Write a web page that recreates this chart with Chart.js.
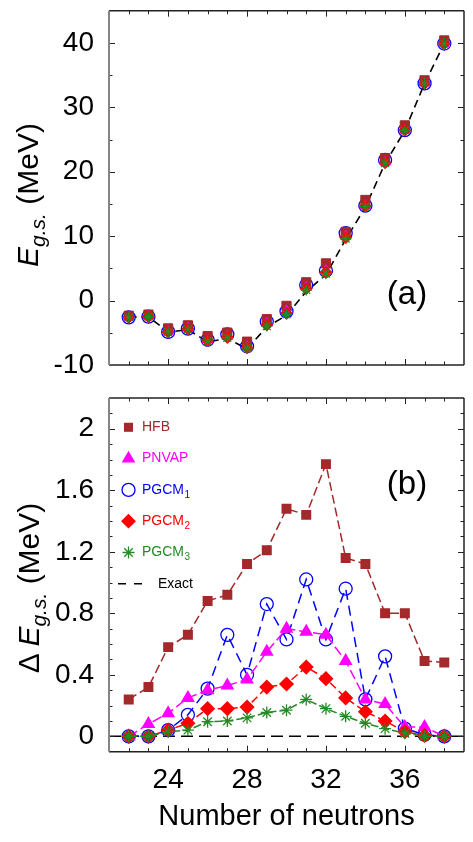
<!DOCTYPE html>
<html lang="en">
<head>
<meta charset="utf-8">
<title>Ground-state energy vs neutrons</title>
<script src="https://cdn.jsdelivr.net/npm/chart.js@4.4.0/dist/chart.umd.min.js"></script>
<style>
  html, body { margin: 0; padding: 0; background: #fff; }
  body { width: 473px; height: 842px; position: relative; overflow: hidden;
         font-family: "Liberation Sans", Arial, Helvetica, sans-serif; color: #000; }
  canvas { position: absolute; left: 0; }
  #topChart { top: 0; }
  #botChart { top: 390px; }
  .ytitle { position: absolute; white-space: nowrap; font-size: 30px; line-height: 30px;
            transform: translate(-50%, -50%) rotate(-90deg); }
  .ytitle .sub { font-size: 21px; font-style: italic; position: relative; top: 7px; }
  .panel { position: absolute; font-size: 33px; line-height: 33px; white-space: nowrap;
           transform: translate(-50%, -50%); }
</style>
</head>
<body>

<canvas id="topChart" width="473" height="390"></canvas>
<canvas id="botChart" width="473" height="452"></canvas>

<div class="ytitle" style="left:29px; top:195px;"><i>E</i><span class="sub">g.s.</span> (MeV)</div>
<div class="ytitle" style="left:30px; top:588px;">&Delta; <i>E</i><span class="sub">g.s.</span> (MeV)</div>
<div class="panel" style="left:407px; top:292px;">(a)</div>
<div class="panel" style="left:407px; top:482px;">(b)</div>

<script>
// ---- data ----
const neutrons = [22, 23, 24, 25, 26, 27, 28, 29, 30, 31, 32, 33, 34, 35, 36, 37, 38];

// panel (a): ground-state energies (MeV)
const exactE = [-2.6, -2.5, -4.9, -4.5, -6.4, -5.9, -7.5, -4.1, -2.3, 1.4, 4.0, 9.5, 14.5, 21.3, 26.4, 33.7, 39.9];
const hfbE   = [-2.36, -2.18, -4.32, -3.84, -5.52, -4.98, -6.38, -2.89, -0.82, 2.84, 5.77, 10.66, 15.62, 22.1, 27.2, 34.19, 40.38];
const pnvapE = [-2.6, -2.42, -4.75, -4.25, -6.1, -5.57, -7.13, -3.55, -1.6, 2.08, 4.66, 9.99, 14.74, 21.51, 26.46, 33.76, 39.9];
const pgcm1E = [-2.6, -2.5, -4.86, -4.36, -6.09, -5.24, -7.1, -3.24, -1.67, 2.42, 4.63, 10.46, 14.74, 21.82, 26.45, 33.71, 39.9];
const pgcm2E = [-2.6, -2.5, -4.86, -4.42, -6.22, -5.72, -7.31, -3.78, -1.96, 1.85, 4.38, 9.75, 14.66, 21.4, 26.43, 33.7, 39.9];
const pgcm3E = [-2.6, -2.5, -4.87, -4.46, -6.3, -5.8, -7.38, -3.95, -2.13, 1.64, 4.18, 9.63, 14.59, 21.35, 26.42, 33.7, 39.9];

// panel (b): deviation from exact (MeV)
const hfbD   = [0.24, 0.32, 0.58, 0.66, 0.88, 0.92, 1.12, 1.21, 1.48, 1.44, 1.77, 1.16, 1.12, 0.80, 0.80, 0.49, 0.48];
const pnvapD = [0.0, 0.08, 0.15, 0.25, 0.30, 0.33, 0.37, 0.55, 0.70, 0.68, 0.66, 0.49, 0.24, 0.21, 0.06, 0.06, 0.0];
const pgcm1D = [0.0, 0.0, 0.04, 0.14, 0.31, 0.66, 0.40, 0.86, 0.63, 1.02, 0.63, 0.96, 0.24, 0.52, 0.05, 0.01, 0.0];
const pgcm2D = [0.0, 0.0, 0.04, 0.085, 0.18, 0.18, 0.19, 0.32, 0.34, 0.45, 0.375, 0.25, 0.16, 0.10, 0.03, 0.005, 0.0];
const pgcm3D = [0.0, 0.0, 0.03, 0.04, 0.095, 0.10, 0.12, 0.155, 0.17, 0.24, 0.18, 0.13, 0.085, 0.05, 0.02, 0.0, 0.0];
const exactDX = [21, 39];
const exactD  = [0, 0];

// axes / ticks
const xTicks = [24, 28, 32, 36];
const yTicksTop = [-10, 0, 10, 20, 30, 40];
const yTicksBot = [0, 0.4, 0.8, 1.2, 1.6, 2];

// legend
const legendLabels = ['HFB', 'PNVAP', 'PGCM', 'PGCM', 'PGCM', 'Exact'];
const legendSubs   = ['', '', '1', '2', '3', ''];

const C_HFB = '#a3292b', C_PNVAP = '#ff00ff', C_P1 = '#0000ff', C_P2 = '#ff0000', C_P3 = '#238b23';

Chart.defaults.font.family = '"Liberation Sans", Arial, Helvetica, sans-serif';
Chart.defaults.color = '#000';

function pts(xs, ys) { return xs.map((x, i) => ({ x: x, y: ys[i] })); }

// frame + inward ticks on all four sides
const frameTicks = {
  id: 'frameTicks',
  afterDraw(chart, args, opts) {
    const { ctx, chartArea: a } = chart;
    const x = chart.scales.x, y = chart.scales.y;
    ctx.save();
    ctx.strokeStyle = '#222';
    ctx.lineWidth = 1;
    function seg(x1, y1, x2, y2) { ctx.beginPath(); ctx.moveTo(x1, y1); ctx.lineTo(x2, y2); ctx.stroke(); }
    for (let n = 22; n <= 38; n++) {
      const px = Math.round(x.getPixelForValue(n)) + 0.5;
      const len = xTicks.includes(n) ? 6 : 3.5;
      seg(px, a.top, px, a.top + len);
      seg(px, a.bottom, px, a.bottom - len);
    }
    for (let k = opts.kMin; k <= opts.kMax; k++) {
      const v = k * opts.step;
      const py = Math.round(y.getPixelForValue(v)) + 0.5;
      if (py < a.top + 1 || py > a.bottom - 1) continue;
      const len = (k % opts.every === 0) ? 6 : 3.5;
      seg(a.left, py, a.left + len, py);
      seg(a.right, py, a.right - len, py);
    }
    ctx.lineWidth = 1.5;
    ctx.strokeStyle = '#222';
    seg(a.left, a.top, a.right, a.top);
    seg(a.right, a.top, a.right, a.bottom);
    seg(a.left, a.bottom, a.right, a.bottom);
    ctx.strokeStyle = '#858585';
    ctx.lineWidth = 2;
    seg(a.left, a.top, a.left, a.bottom);
    ctx.restore();
  }
};

function drawMarker(ctx, style, x, y, r, color) {
  ctx.save();
  ctx.fillStyle = color;
  ctx.strokeStyle = color;
  ctx.lineWidth = 1.3;
  if (style === 'circle') ctx.fillStyle = 'rgba(0,0,0,0)';
  Chart.helpers.drawPoint(ctx, { pointStyle: style, radius: r, rotation: 0, borderWidth: 1.3 }, x, y);
  ctx.restore();
}

const legendPlugin = {
  id: 'customLegend',
  afterDraw(chart) {
    const ctx = chart.ctx;
    const a = chart.chartArea;
    const styles = ['rect', 'triangle', 'circle', 'rectRot', 'star', 'line'];
    const colors = [C_HFB, C_PNVAP, C_P1, C_P2, C_P3, '#000'];
    const sizes = [5.5, 6.5, 6.5, 6.5, 6];
    ctx.save();
    ctx.textBaseline = 'middle';
    for (let i = 0; i < legendLabels.length; i++) {
      const yy = a.top + 29.3 + i * 31.3;
      if (styles[i] === 'line') {
        ctx.strokeStyle = '#000';
        ctx.lineWidth = 1.5;
        ctx.setLineDash([8, 8]);
        ctx.beginPath(); ctx.moveTo(118, yy); ctx.lineTo(143, yy); ctx.stroke();
        ctx.setLineDash([]);
        ctx.fillStyle = '#000';
        ctx.font = '14px "Liberation Sans", Arial, sans-serif';
        ctx.fillText(legendLabels[i], 158, yy);
        continue;
      }
      drawMarker(ctx, styles[i], 128.5, yy, sizes[i], colors[i]);
      ctx.fillStyle = colors[i];
      ctx.font = '14px "Liberation Sans", Arial, sans-serif';
      ctx.fillText(legendLabels[i], 142, yy);
      if (legendSubs[i]) {
        const w = ctx.measureText(legendLabels[i]).width;
        ctx.font = '10px "Liberation Sans", Arial, sans-serif';
        ctx.fillText(legendSubs[i], 142 + w + 0.5, yy + 5);
      }
    }
    ctx.restore();
  }
};

function yAxis(ticks, min, max, fmt) {
  return {
    type: 'linear', min: min, max: max,
    grid: { display: false, drawTicks: false },
    border: { display: false },
    afterBuildTicks(s) { s.ticks = ticks.map(v => ({ value: v })); },
    afterFit(s) { s.width = 109; s.paddingTop = 0; s.paddingBottom = 0; },
    ticks: { font: { size: 28 }, padding: 15, color: '#000', callback: fmt }
  };
}

// ---- panel (a) ----
new Chart(document.getElementById('topChart'), {
  type: 'scatter',
  data: {
    datasets: [
      { data: pts(neutrons, pgcm3E), pointStyle: 'star', pointRadius: 5.5, borderColor: C_P3, backgroundColor: C_P3, pointBorderWidth: 1.3, showLine: false, order: 0 },
      { data: pts(neutrons, pgcm2E), pointStyle: 'rectRot', pointRadius: 6, borderColor: C_P2, backgroundColor: C_P2, showLine: false, order: 1 },
      { data: pts(neutrons, pnvapE), pointStyle: 'triangle', pointRadius: 6, borderColor: C_PNVAP, backgroundColor: C_PNVAP, showLine: false, order: 2 },
      { data: pts(neutrons, hfbE), pointStyle: 'rect', pointRadius: 6.5, borderColor: C_HFB, backgroundColor: C_HFB, showLine: false, order: 3 },
      { data: pts(neutrons, pgcm1E), pointStyle: 'circle', pointRadius: 6.5, borderColor: C_P1, backgroundColor: 'rgba(0,0,0,0)', pointBorderWidth: 1.3, showLine: false, order: 4 },
      { data: pts(neutrons, exactE), showLine: true, pointRadius: 0, borderColor: '#000', borderWidth: 1.6, borderDash: [8, 5], order: 5 }
    ]
  },
  options: {
    responsive: false, animation: false,
    layout: { padding: { top: 10.7, right: 9, bottom: 25, left: 0 } },
    plugins: { legend: { display: false }, tooltip: { enabled: false }, frameTicks: { kMin: -2, kMax: 9, step: 5, every: 2 } },
    scales: {
      x: { type: 'linear', min: 21, max: 39, display: false },
      y: yAxis(yTicksTop, -10, 45, v => String(v))
    }
  },
  plugins: [frameTicks]
});

// ---- panel (b) ----
new Chart(document.getElementById('botChart'), {
  type: 'scatter',
  data: {
    datasets: [
      { data: pts(neutrons, pgcm3D), pointStyle: 'star', pointRadius: 6, borderColor: C_P3, backgroundColor: C_P3, pointBorderWidth: 1.3, showLine: true, borderWidth: 1.5, borderDash: [8, 3], order: 0 },
      { data: pts(neutrons, pgcm2D), pointStyle: 'rectRot', pointRadius: 6.5, borderColor: C_P2, backgroundColor: C_P2, showLine: true, borderWidth: 1.5, borderDash: [8, 4], order: 1 },
      { data: pts(neutrons, pnvapD), pointStyle: 'triangle', pointRadius: 6.5, borderColor: C_PNVAP, backgroundColor: C_PNVAP, showLine: true, borderWidth: 1.5, borderDash: [10, 4], order: 2 },
      { data: pts(neutrons, pgcm1D), pointStyle: 'circle', pointRadius: 6.5, borderColor: C_P1, backgroundColor: 'rgba(0,0,0,0)', pointBorderWidth: 1.3, showLine: true, borderWidth: 1.5, borderDash: [10, 6], order: 3 },
      { data: pts(neutrons, hfbD), pointStyle: 'rect', pointRadius: 6, borderColor: C_HFB, backgroundColor: C_HFB, showLine: true, borderWidth: 1.5, borderDash: [9, 4], order: 4 },
      { data: pts(exactDX, exactD), showLine: true, pointRadius: 0, borderColor: '#000', borderWidth: 1.5, borderDash: [12, 6], order: 5 }
    ]
  },
  options: {
    responsive: false, animation: false,
    layout: { padding: { top: 5.7, right: 9, bottom: 0, left: 0 } },
    plugins: { legend: { display: false }, tooltip: { enabled: false }, frameTicks: { kMin: -1, kMax: 22, step: 0.1, every: 4 } },
    scales: {
      x: {
        type: 'linear', min: 21, max: 39,
        grid: { display: false, drawTicks: false },
        border: { display: false },
        afterBuildTicks(s) { s.ticks = xTicks.map(v => ({ value: v })); },
        afterFit(s) { s.height = 90.3; s.paddingLeft = 0; s.paddingRight = 0; },
        ticks: { font: { size: 28 }, padding: 11.5, color: '#000', maxRotation: 0, autoSkip: false },
        title: { display: true, text: 'Number of neutrons', font: { size: 29 }, color: '#000', padding: { top: 0, bottom: 7.6 } }
      },
      y: yAxis(yTicksBot, -0.1, 2.2, v => String(Math.round(v * 10) / 10))
    }
  },
  plugins: [frameTicks, legendPlugin]
});
</script>
</body>
</html>
